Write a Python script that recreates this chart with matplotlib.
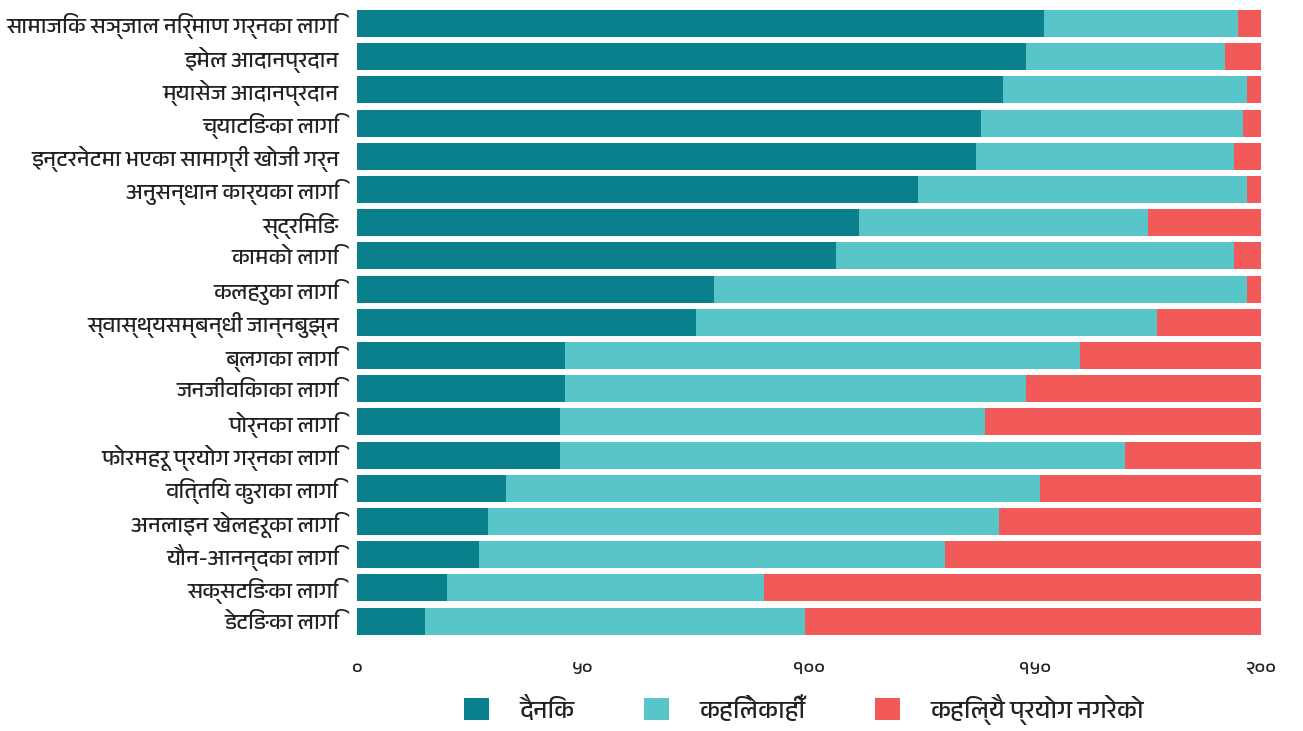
import matplotlib
matplotlib.use("Agg")
import matplotlib.pyplot as plt
from matplotlib import font_manager
from matplotlib.ft2font import FT2Font
from matplotlib.patches import Patch

categories = [
    "सामाजिक सञ्जाल निर्माण गर्नका लागि",
    "इमेल आदानप्रदान",
    "म्यासेज आदानप्रदान",
    "च्याटिङका लागि",
    "इन्टरनेटमा भएका सामाग्री खोजी गर्न",
    "अनुसन्धान कार्यका लागि",
    "स्ट्रिमिङ",
    "कामको लागि",
    "कलहरुका लागि",
    "स्वास्थ्यसम्बन्धी जान्नबुझ्न",
    "ब्लगका लागि",
    "जनजीविकाका लागि",
    "पोर्नका लागि",
    "फोरमहरू प्रयोग गर्नका लागि",
    "वित्तिय कुराका लागि",
    "अनलाइन खेलहरूका लागि",
    "यौन-आनन्दका लागि",
    "सक्सटिङका लागि",
    "डेटिङका लागि",
]
daily = [152, 148, 143, 138, 137, 124, 111, 106, 79, 75, 46, 46, 45, 45, 33, 29, 27, 20, 15]
sometimes = [43, 44, 54, 58, 57, 73, 64, 88, 118, 102, 114, 102, 94, 125, 118, 113, 103, 70, 84]
never = [5, 8, 3, 4, 6, 3, 25, 6, 3, 23, 40, 52, 61, 30, 49, 58, 70, 110, 101]
series_names = ["दैनिक", "कहिलेकाहीँ", "कहिल्यै प्रयोग नगरेको"]
xticks = [0, 50, 100, 150, 200]
xtick_labels = ["०", "५०", "१००", "१५०", "२००"]
colors = ["#0a808c", "#58c6c9", "#f25a5a"]


def find_font(ch):
    found = []
    for f in font_manager.fontManager.ttflist:
        try:
            if ord(ch) in FT2Font(f.fname).get_charmap():
                found.append(f.name)
        except Exception:
            pass
    for name in found:
        if "Devanagari" in name or "Mukta" in name:
            return name
    return found[0] if found else None


deva = find_font("क")
fams = [deva, "DejaVu Sans"] if deva else ["DejaVu Sans"]
plt.rcParams["font.family"] = fams

fig = plt.figure(figsize=(13.03, 7.31), dpi=100)
ax = fig.add_axes([0.274, 0.1276, 0.6938, 0.863])

y = list(range(len(categories)))
left = [0] * len(categories)
for vals, name, c in zip([daily, sometimes, never], series_names, colors):
    ax.barh(y, vals, left=left, height=0.81, color=c, label=name)
    left = [a + b for a, b in zip(left, vals)]

ax.set_ylim(len(categories) - 0.5, -0.5)
ax.set_xlim(0, 200)
ax.set_yticks(y)
ax.set_yticklabels(categories, fontsize=16, color="#222222")
ax.set_xticks(xticks)
ax.set_xticklabels(xtick_labels, fontsize=14, color="#222222")
ax.tick_params(axis="both", length=0)
ax.tick_params(axis="x", pad=17)
ax.tick_params(axis="y", pad=13)
for s in ax.spines.values():
    s.set_visible(False)

handles = [Patch(facecolor=c, edgecolor="none") for c in colors]
fig.legend(handles, series_names, loc="lower center", ncol=3,
           bbox_to_anchor=(0.617, -0.022), frameon=False, fontsize=18,
           handlelength=1.0, handleheight=1.0, handletextpad=1.2,
           columnspacing=2.8, labelcolor="#222222")

fig.savefig("out.png", dpi=100)
